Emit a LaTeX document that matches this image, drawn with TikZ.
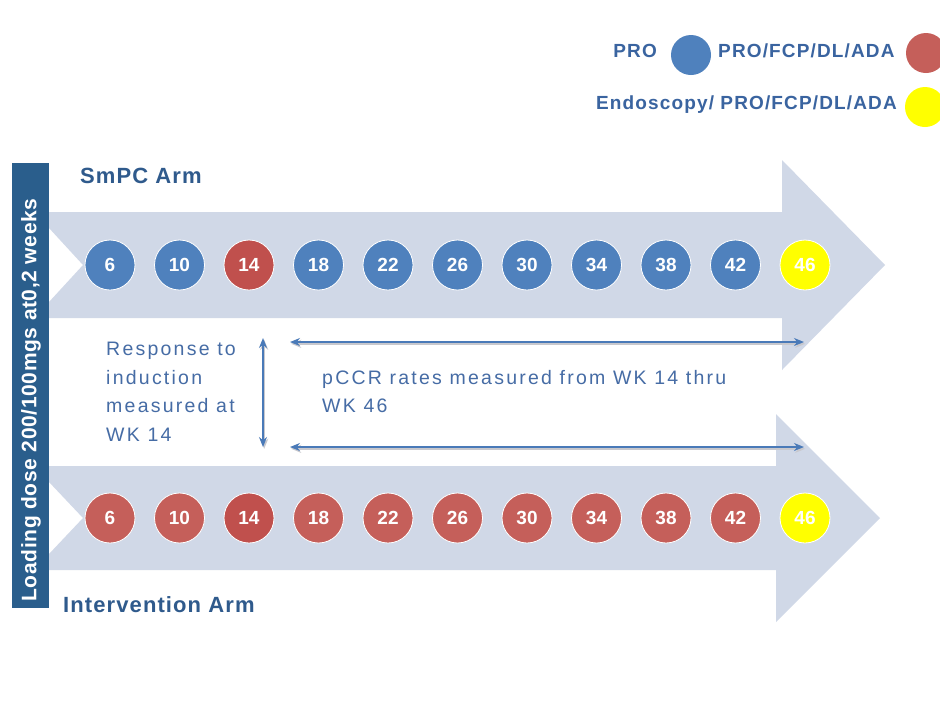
\documentclass[tikz,border=0pt]{standalone}
\usepackage{fontspec}
\setmainfont{Liberation Sans}
\usetikzlibrary{arrows.meta}
\definecolor{arrowfill}{RGB}{208,216,231}
\definecolor{barblue}{RGB}{42,94,140}
\definecolor{dotblue}{RGB}{79,129,189}
\definecolor{dotred}{RGB}{197,95,90}
\definecolor{dotdark}{RGB}{192,80,77}
\definecolor{dotyellow}{RGB}{255,255,0}
\definecolor{titleblue}{RGB}{47,90,140}
\definecolor{legblue}{RGB}{58,100,160}
\definecolor{txtblue}{RGB}{70,108,165}
\definecolor{linkblue}{RGB}{74,122,184}
\definecolor{linkshadow}{RGB}{200,200,205}
\tikzset{
  dot/.style={circle,minimum size=50pt,inner sep=0pt,draw=white,line width=0.8pt,
    text=white,font=\fontsize{19}{22}\selectfont\bfseries},
  legdot/.style={circle,minimum size=40pt,inner sep=0pt},
  legtext/.style={text=legblue,font=\fontsize{19}{22}\selectfont\bfseries\addfontfeature{LetterSpace=6},inner sep=0pt},
  armtitle/.style={text=titleblue,font=\fontsize{22}{24}\selectfont\bfseries\addfontfeature{LetterSpace=5},inner sep=0pt},
  bodytext/.style={text=txtblue,font=\fontsize{19.5}{28.5}\selectfont\addfontfeature{LetterSpace=11.5},inner sep=0pt,align=left},
  link/.style={draw=linkblue,line width=1.4pt,{Stealth[length=10pt,width=8pt]}-{Stealth[length=10pt,width=8pt]}},
  linkshade/.style={draw=linkshadow,line width=1.8pt,{Stealth[length=10pt,width=8pt]}-{Stealth[length=10pt,width=8pt]},transform canvas={shift={(1.2pt,-1.8pt)}}},
  armshape/.style={fill=arrowfill,draw=none}
}
\begin{document}
\begin{tikzpicture}[x=1pt,y=-1pt]
\useasboundingbox (0,0) rectangle (940,721);
\fill[white] (0,0) rectangle (940,721);
% top arrow
\path[armshape] (49,212) -- (782,212) -- (782,160) -- (885,265) -- (782,370) -- (782,318)
  -- (49,318) -- (49,302) -- (83,265) -- (49,228) -- cycle;
% bottom arrow
\path[armshape] (49,466) -- (776,466) -- (776,414) -- (880,518) -- (776,622) -- (776,570)
  -- (49,570) -- (49,554) -- (83,518) -- (49,482) -- cycle;
% vertical bar
\fill[barblue] (12,163) rectangle (49,608);
\node[rotate=90,text=white,font=\fontsize{21}{24}\selectfont\bfseries\addfontfeature{LetterSpace=3},inner sep=0pt] (load) at (31,400)
  {Loading dose 200/100mgs at0,2 weeks};
% titles
\node[armtitle,anchor=base west] (smpc) at (80,183) {SmPC Arm};
\node[armtitle,anchor=base west] (interv) at (63,612) {Intervention Arm};
% top row dots
\foreach \n/\c [count=\i from 0] in {6/dotblue,10/dotblue,14/dotdark,18/dotblue,22/dotblue,26/dotblue,30/dotblue,34/dotblue,38/dotblue,42/dotblue,46/dotyellow}{
  \node[dot,fill=\c] (t\n) at (110+69.5*\i,265) {\n};
}
% bottom row dots
\foreach \n/\c [count=\i from 0] in {6/dotred,10/dotred,14/dotdark,18/dotred,22/dotred,26/dotred,30/dotred,34/dotred,38/dotred,42/dotred,46/dotyellow}{
  \node[dot,fill=\c] (b\n) at (110+69.5*\i,518) {\n};
}
% legend
\node[legtext,anchor=base east] (lpro) at (657,57) {PRO};
\node[legdot,fill=dotblue] (lprodot) at (691,55) {};
\node[legtext,anchor=base west] (lfcp) at (718,57) {PRO/FCP/DL/ADA};
\node[legdot,fill=dotred] (lfcpdot) at (926,53) {};
\node[legtext,anchor=base east] (lendo) at (897,109) {Endoscopy/ PRO/FCP/DL/ADA};
\node[legdot,fill=dotyellow] (lendodot) at (925,107) {};
% middle texts
\node[bodytext,anchor=north west] (resp) at (106,342) {Response to\\induction\\measured at\\WK 14};
\node[bodytext,anchor=north west] (pccr) at (322,370) {pCCR rates measured from WK 14 thru\\WK 46};
% connectors
\coordinate (vtop) at (263,338);
\coordinate (vbot) at (263,447);
\coordinate (htl) at (290,342);
\coordinate (htr) at (804,342);
\coordinate (hbl) at (290,447);
\coordinate (hbr) at (804,447);
\draw[linkshade] (vtop) -- (vbot);
\draw[linkshade] (htl) -- (htr);
\draw[linkshade] (hbl) -- (hbr);
\draw[link] (vtop) -- (vbot);
\draw[link] (htl) -- (htr);
\draw[link] (hbl) -- (hbr);
\end{tikzpicture}
\end{document}
